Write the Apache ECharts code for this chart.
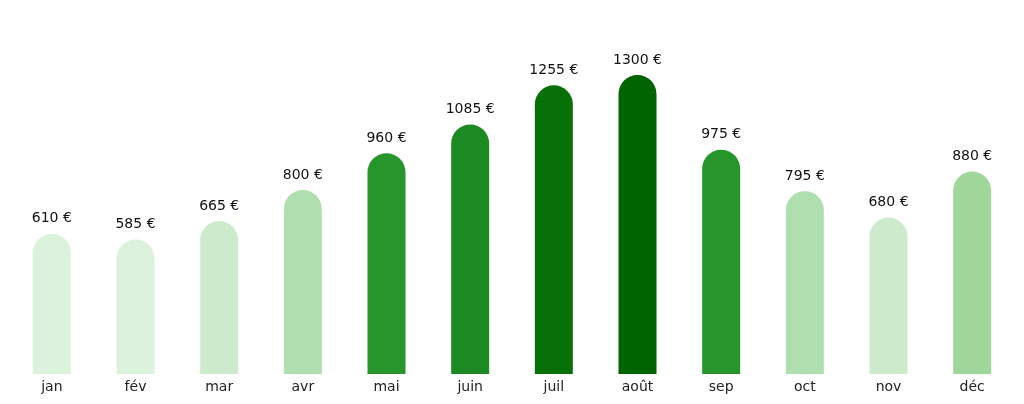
<!DOCTYPE html>
<html><head><meta charset="utf-8">
<script src="https://cdn.jsdelivr.net/npm/echarts@6/dist/echarts.min.js"></script>
<style>html,body{margin:0;padding:0;background:#fff}#c{width:1024px;height:404px}</style>
</head><body><div id="c"></div>
<script>
const months = ['jan', 'fév', 'mar', 'avr', 'mai', 'juin', 'juil', 'août', 'sep', 'oct', 'nov', 'déc'];
const values = [610, 585, 665, 800, 960, 1085, 1255, 1300, 975, 795, 680, 880];
const colors = ['#dcf2dd', '#dcf2dd', '#cdebcc', '#b0dfaf', '#27962a', '#1b8a22', '#077007', '#006400',
  '#27962a', '#b0dfaf', '#cdebcc', '#9fd79b'];

const chart = echarts.init(document.getElementById('c'));
chart.setOption({
  animation: false,
  grid: { left: 10, right: 10, top: 52, bottom: 30 },
  xAxis: {
    type: 'category', data: months,
    axisLine: { show: false }, axisTick: { show: false },
    axisLabel: { color: '#222', fontSize: 14, fontFamily: 'DejaVu Sans', margin: 6 }
  },
  yAxis: { type: 'value', min: 0, max: 1400, show: false, splitLine: { show: false } },
  series: [{
    type: 'bar', barWidth: 38,
    data: values.map((v, i) => ({ value: v, itemStyle: { color: colors[i] } })),
    itemStyle: { borderRadius: [19, 19, 0, 0] },
    label: {
      show: true, position: 'top', distance: 8, color: '#111', fontSize: 14, fontFamily: 'DejaVu Sans',
      formatter: p => p.value + ' €'
    }
  }]
});
</script></body></html>
